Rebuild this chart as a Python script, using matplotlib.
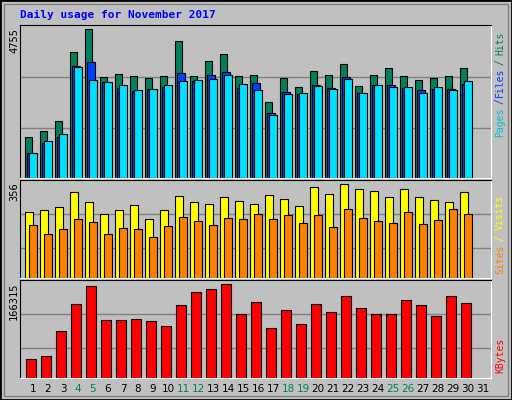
import matplotlib
matplotlib.use("Agg")
import matplotlib.pyplot as plt
from matplotlib.patches import Rectangle

days = list(range(1, 32))
weekend = [4, 5, 11, 12, 18, 19, 25, 26]

hits = [1302, 1495, 1818, 4045, 4755, 3238, 3335, 3270, 3206, 3270, 4368, 3270, 3755, 3981, 3270,
        3303, 2431, 3206, 2915, 3432, 3303, 3658, 2948, 3303, 3529, 3270, 3141, 3206, 3270, 3529]
files = [785, 1108, 1302, 3593, 3722, 3077, 2883, 2786, 2851, 2915, 3367, 3109, 3303, 3400, 2883,
         3045, 2076, 2754, 2690, 2980, 2883, 3238, 2722, 2980, 2980, 2883, 2819, 2851, 2851, 3012]
pages = [785, 1173, 1399, 3561, 3141, 3077, 2980, 2819, 2851, 2980, 3109, 3141, 3174, 3303, 3012,
         2819, 2012, 2690, 2722, 2948, 2851, 3174, 2722, 2980, 2915, 2915, 2722, 2915, 2819, 3109]
visits = [252, 259, 271, 329, 290, 244, 259, 279, 224, 259, 313, 290, 282, 310, 294,
          282, 317, 302, 275, 348, 321, 356, 337, 333, 310, 337, 310, 298, 290, 329]
sites = [201, 166, 186, 224, 213, 166, 190, 186, 155, 197, 232, 217, 201, 228, 224,
         244, 224, 240, 209, 240, 194, 263, 228, 217, 209, 252, 205, 221, 263, 244]
kbytes = [33385, 38848, 82552, 131719, 162676, 102583, 102583, 104404, 100762, 91657,
          129898, 151750, 157213, 166315, 113509, 135361, 88015, 120793, 95299, 131719,
          117151, 144466, 124435, 113509, 113509, 139003, 129898, 109867, 144466, 133540]

W, H = 512, 400
BG = "#C0C0C0"
fig = plt.figure(figsize=(W / 100, H / 100), dpi=100, facecolor=BG)
mono = "DejaVu Sans Mono"


def px_axes(x0, y0, x1, y1):
    return fig.add_axes([x0 / W, 1 - y1 / H, (x1 - x0) / W, (y1 - y0) / H])


def style(ax, top, grids):
    ax.set_facecolor(BG)
    ax.set_xlim(20, 491)
    ax.set_ylim(0, top)
    ax.set_xticks([])
    ax.set_yticks([])
    for g in grids:
        ax.axhline(g, color="#808080", lw=1, zorder=0)
    for s in ["top", "left"]:
        ax.spines[s].set_color("black")
    for s in ["bottom", "right"]:
        ax.spines[s].set_color("white")


def bars(ax, vals, off, width, color):
    xs = [20 + 15 * (d - 1) + off for d in days[:len(vals)]]
    ax.bar(xs, vals, width=width, align="edge", color=color, edgecolor="black", linewidth=0.8, zorder=2)


ax1 = px_axes(20, 25, 491, 178)
style(ax1, 4895, [3238, 1592])
bars(ax1, hits, 5, 7, "#00805C")
bars(ax1, files, 7, 8, "#0040FF")
bars(ax1, pages, 8.5, 8, "#00E0FF")

ax2 = px_axes(20, 180, 491, 278)
style(ax2, 373, [244, 116])
bars(ax2, visits, 5, 8, "#FFFF00")
bars(ax2, sites, 9, 7.5, "#FF8000")

ax3 = px_axes(20, 280, 491, 378)
style(ax3, 173602, [113509, 53416])
bars(ax3, kbytes, 6.3, 10, "#FF0000")

fig.text(20 / W, 1 - 15 / H, "Daily usage for November 2017", color="#0000FF", fontsize=8,
         fontweight="bold", family=mono, va="center")

def vtext(x, y, s, color, va="center", size=7.5):
    fig.text(x / W, 1 - y / H, s, rotation=90, color=color, fontsize=size, family=mono,
             ha="center", va=va)

vtext(14, 28, "4755", "black", va="top")
vtext(14, 182, "356", "black", va="top")
vtext(14, 282, "166315", "black", va="top")

vtext(500, 122, "Pages", "#00C0E0", size=7)
vtext(500, 101, "/", "#0040FF", size=7)
vtext(500, 82, "Files", "#0040FF", size=7)
vtext(500, 62, "/", "#00805C", size=7)
vtext(500, 43, "Hits", "#00805C", size=7)
vtext(500, 259, "Sites", "#FF8000", size=7)
vtext(500, 238, "/", "#FFFF00", size=7)
vtext(500, 212, "Visits", "#FFFF00", size=7)
vtext(500, 355, "KBytes", "#FF0000", size=7)

for d in days:
    fig.text((33 + 15 * (d - 1)) / W, 1 - 389 / H, str(d), ha="center", va="center",
             fontsize=7.5, family="DejaVu Sans",
             color="#00805C" if d in weekend else "black")

fig.patches.append(Rectangle((0, 0), 1, 1, transform=fig.transFigure, fill=False,
                             edgecolor="black", lw=2))
fig.patches.append(Rectangle((4 / W, 4 / H), 1 - 8 / W, 1 - 8 / H, transform=fig.transFigure,
                             fill=False, edgecolor="#808080", lw=1))

fig.savefig("out.png", dpi=100, facecolor=BG)
